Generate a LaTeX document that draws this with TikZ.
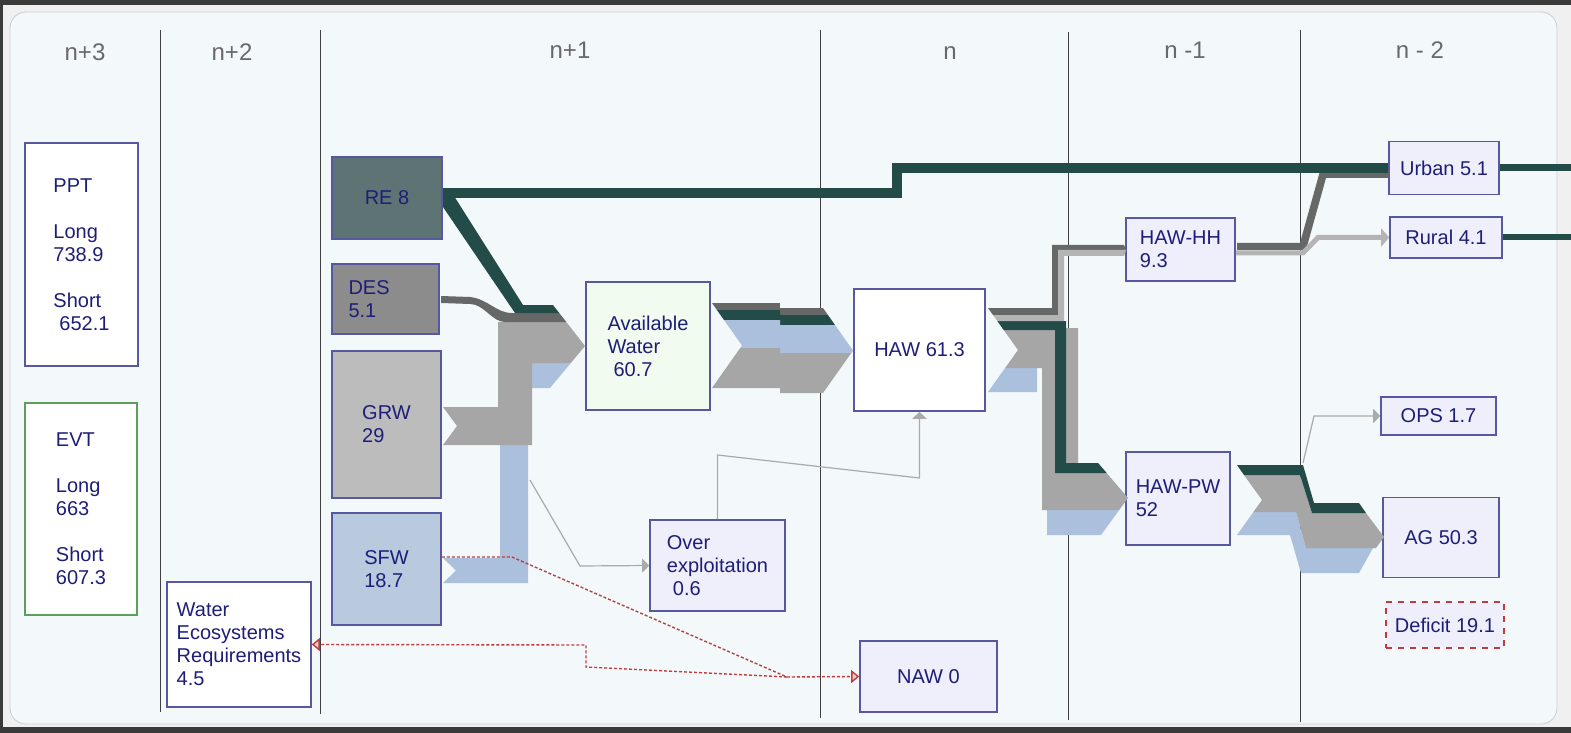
\documentclass[tikz,border=0pt]{standalone}
\usepackage{fontspec}
\setmainfont{Liberation Sans}
\usepackage{tikz}
\usetikzlibrary{arrows.meta,positioning}
\definecolor{outerbg}{RGB}{240,240,240}
\definecolor{frame}{RGB}{58,58,58}
\definecolor{panelbg}{RGB}{243,248,250}
\definecolor{panelline}{RGB}{205,205,205}
\definecolor{boxline}{RGB}{88,88,160}
\definecolor{boxtext}{RGB}{30,30,120}
\definecolor{lavender}{RGB}{238,239,250}
\definecolor{mintbox}{RGB}{241,251,239}
\definecolor{reboxfill}{RGB}{94,116,116}
\definecolor{desboxfill}{RGB}{140,140,140}
\definecolor{grwboxfill}{RGB}{188,188,188}
\definecolor{sfwboxfill}{RGB}{185,202,222}
\definecolor{refl}{RGB}{35,75,71}
\definecolor{desfl}{RGB}{102,104,104}
\definecolor{grwfl}{RGB}{166,166,166}
\definecolor{sfwfl}{RGB}{170,192,220}
\definecolor{paleflow}{RGB}{180,180,180}
\definecolor{thinlink}{RGB}{170,170,170}
\definecolor{deficitred}{RGB}{192,60,60}
\definecolor{evtgreen}{RGB}{90,160,90}
\definecolor{colgray}{RGB}{105,105,105}

\begin{document}
\begin{tikzpicture}[x=0.5pt,y=-0.5pt,
  box/.style={draw=boxline,line width=0.8pt,fill=lavender,text=boxtext,
              align=left,inner sep=0pt,font=\fontsize{10}{11.5}\selectfont},
  colhead/.style={text=colgray,font=\fontsize{12}{14}\selectfont},
  sep/.style={draw=black!75,line width=0.5pt},
  link/.style={draw=thinlink,line width=0.6pt,
               -{Triangle[length=3.5pt,width=7pt,fill=thinlink]}},
  redlink/.style={draw=deficitred,line width=0.7pt,dash pattern=on 1.5pt off 1pt,
                  -{Triangle[length=4pt,width=6.5pt,fill=deficitred!25]}}]
  \useasboundingbox (0,0) rectangle (1571,733);

  % Screen frame and rounded panel.
  \fill[outerbg] (0,0) rectangle (1571,733);
  \fill[frame] (0,0) rectangle (1571,5);
  \fill[frame] (0,0) rectangle (3,733);
  \fill[frame] (0,727) rectangle (1571,733);
  \draw[panelline,fill=panelbg,rounded corners=8pt] (10,12) rectangle (1557,724);

  % Column separators and headers.
  \foreach \x/\ya/\yb in {160/30/712, 320/30/714, 820/30/718, 1068/32/720, 1300/30/722}
    \draw[sep] (\x,\ya) -- (\x,\yb);
  \node[colhead] (c3) at (85,52) {n+3};
  \node[colhead] (c2) at (232,52) {n+2};
  \node[colhead] (c1) at (570,50) {n+1};
  \node[colhead] (c0) at (950,53) {n};
  \node[colhead] (m1) at (1185,50) {n -1};
  \node[colhead] (m2) at (1420,50) {n - 2};

  % Boxes.
  \node[box,fill=white,minimum width=56.5pt,minimum height=111.5pt] (ppt) at (81.5,254.5)
    {PPT\\[11.5pt]Long\\738.9\\[11.5pt]Short\\\hspace*{3pt}652.1};
  \node[box,draw=evtgreen,fill=white,minimum width=56pt,minimum height=106pt] (evt) at (81,509)
    {EVT\\[11.5pt]Long\\663\\[11.5pt]Short\\607.3};
  \node[box,fill=white,minimum width=72pt,minimum height=62.5pt] (wer) at (239,644.5)
    {Water\\Ecosystems\\Requirements\\4.5};
  \node[box,fill=reboxfill,minimum width=55pt,minimum height=41pt] (re) at (387,198) {RE 8};
  \node[box,fill=desboxfill,minimum width=53.5pt,minimum height=35pt,text width=37pt] (des) at (385.5,299) {DES\\5.1};
  \node[box,fill=grwboxfill,minimum width=54.5pt,minimum height=73.5pt] (grw) at (386.5,424.5) {GRW\\29};
  \node[box,fill=sfwboxfill,minimum width=54.5pt,minimum height=56pt] (sfw) at (386.5,569) {SFW\\18.7};
  \node[box,fill=mintbox,minimum width=62pt,minimum height=64pt] (aw) at (648,346)
    {Available\\Water\\\hspace*{3pt}60.7};
  \node[box,minimum width=67.5pt,minimum height=45.5pt] (oe) at (717.5,565.5)
    {Over\\exploitation\\\hspace*{3pt}0.6};
  \node[box,fill=white,minimum width=65.5pt,minimum height=61pt] (haw) at (919.5,350) {HAW 61.3};
  \node[box,minimum width=68.5pt,minimum height=35.5pt] (naw) at (928.5,676.5) {NAW 0};
  \node[box,minimum width=54.5pt,minimum height=31.5pt] (hh) at (1180.5,249.5) {HAW-HH\\9.3};
  \node[box,minimum width=52pt,minimum height=46.5pt] (pw) at (1178,498.5) {HAW-PW\\52};
  \node[box,minimum width=55pt,minimum height=26.5pt] (urban) at (1444,168) {Urban 5.1};
  \node[box,minimum width=56pt,minimum height=20.5pt] (rural) at (1446,237.5) {Rural 4.1};
  \node[box,minimum width=57.5pt,minimum height=19pt] (ops) at (1438.5,416) {OPS 1.7};
  \node[box,minimum width=58pt,minimum height=40pt] (ag) at (1441,537.5) {AG 50.3};
  \node[box,draw=deficitred,dashed,minimum width=59pt,minimum height=23pt] (deficit) at (1445,625) {Deficit 19.1};

  % Sources merging into available water.
  \fill[sfwfl] (443,558) -- (500,558) -- (500,363) -- (570.8,363) -- (550,388) -- (528,388)
    -- (528,583) -- (443,583) -- (456,570.5) -- cycle;
  \fill[grwfl] (443,407) -- (498,407) -- (498,322) -- (566.3,322) -- (585,346) -- (570.8,363)
    -- (532,363) -- (532,445) -- (443,445) -- (457,426) -- cycle;
  \fill[desfl] (441,296) -- (470,297) .. controls (488,299) and (496,313) .. (512,313)
    -- (559.2,313) -- (566.3,322) -- (505,322) .. controls (492,322) and (484,304) .. (470,304)
    -- (441,303) -- cycle;
  \fill[refl] (443,196) -- (454,196) -- (523,305) -- (553,305) -- (559.2,313) -- (515,313)
    -- (443,207) -- cycle;

  % Available water to HAW.
  \begin{scope}
    \clip (712,303) -- (780,303) -- (780,308) -- (823,308) -- (853,350.5) -- (823,393)
      -- (780,393) -- (780,388) -- (712,388) -- (742,345.5) -- cycle;
    \foreach \fc/\ya/\yb in {desfl/303/310, refl/310/320, sfwfl/320/348, grwfl/348/388}
      \fill[\fc] (705,\ya) -- (780,\ya) -- (780,\ya+5) -- (860,\ya+5) -- (860,\yb+5)
        -- (780,\yb+5) -- (780,\yb) -- (705,\yb) -- cycle;
  \end{scope}

  % HAW split into household and productive use.
  \fill[sfwfl] (988,392) -- (1005.1,368) -- (1037,368) -- (1037,392) -- cycle;
  \fill[sfwfl] (1047,510) -- (1119.2,510) -- (1101,535) -- (1047,535) -- cycle;
  \fill[grwfl] (1002.3,328) -- (1078,328) -- (1078,463) -- (1098,463) -- (1128,498)
    -- (1119.2,510) -- (1042,510) -- (1042,368) -- (1005.1,368) -- (1018,350) -- cycle;
  \fill[refl] (997.3,321) -- (1066,321) -- (1066,463) -- (1098,463) -- (1106.6,473)
    -- (1055,473) -- (1055,330) -- (1003.7,330) -- cycle;
  \fill[desfl] (988,308) -- (1052,308) -- (1052,245) -- (1124,245) -- (1126,250)
    -- (1058,250) -- (1058,315) -- (993,315) -- cycle;
  \fill[paleflow] (993,315) -- (1058,315) -- (1058,250) -- (1126,250) -- (1124,256)
    -- (1064,256) -- (1064,321) -- (997.3,321) -- cycle;

  % Household use to urban and rural.
  \fill[desfl] (1237,243) -- (1300,243) -- (1320,171) -- (1389,171) -- (1389,178)
    -- (1326,178) -- (1306,250) -- (1237,250) -- cycle;
  \draw[paleflow,line width=2.5pt,-{Triangle[length=4pt,width=9pt]}]
    ([yshift=-1.75pt]hh.east) -- (1303,253) -- (1318,237.5) -- (rural.west);

  % Renewable line to urban, and outflows at the right edge.
  \draw[refl,line width=5pt] ([yshift=2.5pt]re.east) -- (897,193) -- (897,168) -- (urban.west);
  \draw[refl,line width=3.5pt] (urban.east) -- (1571,168);
  \draw[refl,line width=3pt] (rural.east) -- (1571,237.5);

  % Productive use to agriculture.
  \fill[sfwfl] (1253.4,512) -- (1296,512) -- (1306,548) -- (1373,548) -- (1359,573)
    -- (1301,573) -- (1290,535) -- (1237,535) -- cycle;
  \fill[grwfl] (1244,475) -- (1300,475) -- (1312,513) -- (1366,513) -- (1384,537)
    -- (1376,548) -- (1306,548) -- (1296,512) -- (1253.4,512) -- (1262,500) -- cycle;
  \fill[refl] (1237,465) -- (1303,465) -- (1314,503) -- (1359,503) -- (1366,513)
    -- (1312,513) -- (1300,475) -- (1244,475) -- cycle;

  % Thin links.
  \coordinate (grwtap) at (530,480);
  \coordinate (pwtap) at (1303,463);
  \draw[link] (grwtap) -- (580,566) -- (oe.west);
  \draw[link] (oe.north) -- (717.5,455) -- (919.5,478) -- (haw.south);
  \draw[link] (pwtap) -- (1314,416) -- (ops.west);

  % Non-available water (red dashed).
  \coordinate (nawjoin) at (787,677);
  \draw[redlink] ([yshift=6pt]sfw.east) -- (512,557) -- (nawjoin) -- (naw.west);
  \draw[redlink] (nawjoin) -- (586,667) -- (586,645) -- (wer.east);
\end{tikzpicture}
\end{document}
